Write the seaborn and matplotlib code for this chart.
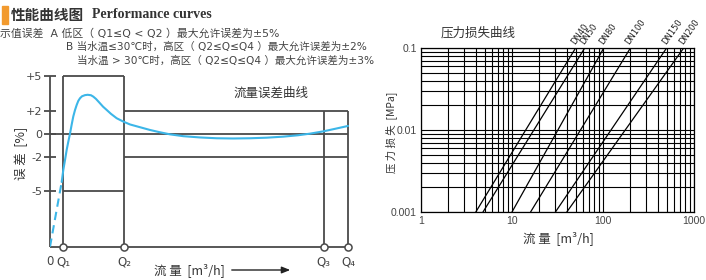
import numpy as np
import pandas as pd
import matplotlib
matplotlib.use('Agg')
import matplotlib.pyplot as plt
from matplotlib.patches import Rectangle, FancyArrowPatch
from matplotlib.ticker import NullFormatter, FixedLocator
import seaborn as sns

# ---------------- data ----------------
# left chart: flow error curve (x in relative flow units, y in %)
q_labels = ['0', 'Q₁', 'Q₂', 'Q₃', 'Q₄']
q_pos = [0.0, 13.0, 74.3, 273.7, 298.0]
err_ticks = [5, 2, 0, -2, -5]
err_tick_labels = ['+5', '+2', '0', '-2', '-5']
low_zone_limit = 5
high_zone_limit = 2
err_bottom = -9.83

curve_dash_x = [0.0, 11.7]
curve_dash_y = [-9.83, -4.2]
curve_x = [11.7, 13.3, 15.0, 16.7, 18.3, 20.0, 21.7, 23.3, 25.0, 26.7, 28.3, 30.0,
           32.0, 35.0, 37.7, 41.0, 43.3, 46.0, 50.0, 53.0, 56.7, 61.0, 66.7, 73.3,
           80.0, 90.0, 100.0, 110.0, 115.0, 120.0, 133.3, 150.0, 166.7, 183.0,
           200.0, 216.7, 233.3, 248.0, 260.0, 273.3, 285.0, 298.0]
curve_y = [-4.2, -3.16, -2.3, -1.4, -0.7, 0.0, 0.8, 1.5, 2.05, 2.5, 2.85, 3.08,
           3.25, 3.35, 3.38, 3.34, 3.22, 3.02, 2.64, 2.35, 2.06, 1.72, 1.34, 1.05,
           0.8, 0.56, 0.32, 0.12, 0.03, -0.06, -0.22, -0.33, -0.4, -0.42,
           -0.4, -0.35, -0.26, -0.14, 0.0, 0.2, 0.42, 0.67]

# right chart: pressure loss lines
dn_names = ['DN40', 'DN50', 'DN80', 'DN100', 'DN150', 'DN200']
dn_flow_at_low = [4.0, 4.8, 10.0, 16.0, 30.0, 40.0]        # m3/h at 0.001 MPa
dn_flow_at_high = [50.0, 63.0, 102.0, 200.0, 500.0, 770.0]  # m3/h at 0.1 MPa
loss_low, loss_high = 0.001, 0.1
flow_ticks = [1, 10, 100, 1000]
loss_ticks = [0.001, 0.01, 0.1]
loss_tick_labels = ['0.001', '0.01', '0.1']

# ---------------- style ----------------
sns.set_theme(style='white')
plt.rcParams['font.family'] = ['Noto Sans CJK SC', 'DejaVu Sans']

W, H = 706, 280
fig = plt.figure(figsize=(W / 100, H / 100), dpi=100)
fig.patch.set_facecolor('white')

def fx(px):
    return px / W

def fy(py):
    return 1 - py / H

GRAY = '#4a4a4a'
TXT = '#444444'
BLUE = '#3cb6e8'
MIX = ['DejaVu Sans', 'Noto Sans CJK SC']
NUM = ['Liberation Sans', 'DejaVu Sans']

# ---------------- header texts ----------------
fig.patches.append(Rectangle((fx(2), fy(24)), fx(6) - fx(0), fy(6) - fy(24),
                             transform=fig.transFigure, color='#f29a2e', zorder=3))
fig.text(fx(11), fy(15), '性能曲线图', fontsize=10.5, fontweight='bold',
         color='#333333', va='center', ha='left')
fig.text(fx(92), fy(15), 'Performance curves', fontsize=10, fontweight='bold',
         color='#333333', va='center', ha='left', family=['Liberation Serif', 'DejaVu Serif'])
fig.text(fx(0), fy(33), '示值误差  A 低区（ Q1≤Q < Q2 ）最大允许误差为±5%', fontsize=7.8,
         color=TXT, va='center', ha='left', family=MIX)
fig.text(fx(66), fy(47), 'B 当水温≤30℃时，高区（ Q2≤Q≤Q4 ）最大允许误差为±2%', fontsize=7.6,
         color=TXT, va='center', ha='left', family=MIX)
fig.text(fx(77), fy(61), '当水温 > 30℃时，高区（ Q2≤Q≤Q4 ）最大允许误差为±3%', fontsize=7.6,
         color=TXT, va='center', ha='left', family=MIX)

# ---------------- left chart ----------------
ytop = 5.3
ppu = 11.5  # pixels per percent
ax_h = (ytop - err_bottom) * ppu
ax = fig.add_axes([fx(50), 33.3 / H, 300 / W, ax_h / H])
ax.set_xlim(0, 300)
ax.set_ylim(err_bottom, ytop)
for s in ax.spines.values():
    s.set_visible(False)
ax.patch.set_alpha(0)

lw = 1.3
Q1, Q2, Q3, Q4 = q_pos[1:]
kw = dict(colors=GRAY, linewidth=lw, clip_on=False, zorder=2)
# axes lines
ax.hlines(err_bottom, 0, Q4, **kw)
ax.vlines(0, err_bottom, low_zone_limit, **kw)
# low zone box
ax.vlines([Q1, Q2], err_bottom, low_zone_limit, **kw)
ax.hlines([low_zone_limit, -low_zone_limit], Q1, Q2, **kw)
# high zone
ax.hlines([high_zone_limit, -high_zone_limit], Q2, Q4, **kw)
ax.vlines([Q3, Q4], err_bottom, high_zone_limit, **kw)
ax.hlines(0, 0, Q4, **kw)

# curve
sns.lineplot(x=curve_dash_x, y=curve_dash_y, ax=ax, color=BLUE, linewidth=1.5,
             linestyle=(0, (4, 2.5)), sort=False, zorder=4)
sns.lineplot(x=curve_x, y=curve_y, ax=ax, color=BLUE, linewidth=1.5, sort=False, zorder=4)

# Q markers
sns.scatterplot(x=q_pos[1:], y=[err_bottom] * 4, ax=ax, marker='o', s=26,
                facecolor='white', edgecolor=GRAY, linewidth=1.1, zorder=6, clip_on=False)

ax.set_yticks(err_ticks)
ax.set_yticklabels(err_tick_labels)
ax.tick_params(axis='y', left=True, direction='inout', length=9, width=lw, color=GRAY,
               labelsize=8, labelcolor=TXT, pad=1)
ax.set_xticks(q_pos)
ax.set_xticklabels(q_labels)
ax.tick_params(axis='x', bottom=False, length=0, labelsize=8.5, labelcolor=TXT, pad=6)
for lab in ax.get_yticklabels() + ax.get_xticklabels():
    lab.set_family(['DejaVu Sans'])

fig.text(fx(271), fy(93), '流量误差曲线', fontsize=9, color='#333333', va='center', ha='center')
fig.text(fx(21), fy(153), '误 差  [%]', fontsize=9, color='#333333', va='center',
         ha='center', rotation=90)
fig.text(fx(189), fy(270), '流 量  [m³/h]', fontsize=9, color='#333333', va='center', ha='center')
fig.add_artist(FancyArrowPatch(
    (fx(229), fy(270)), (fx(293), fy(270)), transform=fig.transFigure,
    arrowstyle='-|>,head_length=5,head_width=2', color='#222222', linewidth=1.0,
    mutation_scale=1))

# ---------------- right chart ----------------
ax2 = fig.add_axes([fx(421), (H - 212) / H, 273 / W, 164 / H])
ax2.set_xscale('log')
ax2.set_yscale('log')
ax2.set_xlim(1, 1000)
ax2.set_ylim(loss_low, loss_high)

rows = []
for name, a, b in zip(dn_names, dn_flow_at_low, dn_flow_at_high):
    rows.append({'size': name, 'flow': a, 'loss': loss_low})
    rows.append({'size': name, 'flow': b, 'loss': loss_high})
df = pd.DataFrame(rows)
sns.lineplot(data=df, x='flow', y='loss', units='size', estimator=None, color='black',
             linewidth=0.9, ax=ax2, zorder=4)

for name, b in zip(dn_names, dn_flow_at_high):
    ax2.annotate(name, (b, loss_high), xytext=(0.5, 1.5), textcoords='offset points',
                 rotation=55, rotation_mode='anchor', ha='left', va='bottom',
                 fontsize=6, color='#222222', family=['DejaVu Sans'], annotation_clip=False)

ax2.grid(True, which='both', color='black', linewidth=0.8)
ax2.set_axisbelow(True)
for s in ax2.spines.values():
    s.set_color('black')
    s.set_linewidth(0.9)
ax2.xaxis.set_major_locator(FixedLocator(flow_ticks))
ax2.set_xticklabels([str(t) for t in flow_ticks])
ax2.yaxis.set_major_locator(FixedLocator(loss_ticks))
ax2.set_yticklabels(loss_tick_labels)
ax2.xaxis.set_minor_formatter(NullFormatter())
ax2.yaxis.set_minor_formatter(NullFormatter())
ax2.tick_params(which='both', length=0, labelsize=7.5, labelcolor=TXT, pad=3)
for lab in ax2.get_yticklabels() + ax2.get_xticklabels():
    lab.set_family(NUM)
ax2.set_xlabel('')
ax2.set_ylabel('')

fig.text(fx(478), fy(33), '压力损失曲线', fontsize=9, color='#333333', va='center', ha='center')
fig.text(fx(391), fy(132), '压 力 损 失  [MPa]', fontsize=7.5, color='#333333', va='center',
         ha='center', rotation=90)
fig.text(fx(558), fy(238), '流 量  [m³/h]', fontsize=9, color='#333333', va='center', ha='center')

fig.savefig('out.png', dpi=100, facecolor='white')
